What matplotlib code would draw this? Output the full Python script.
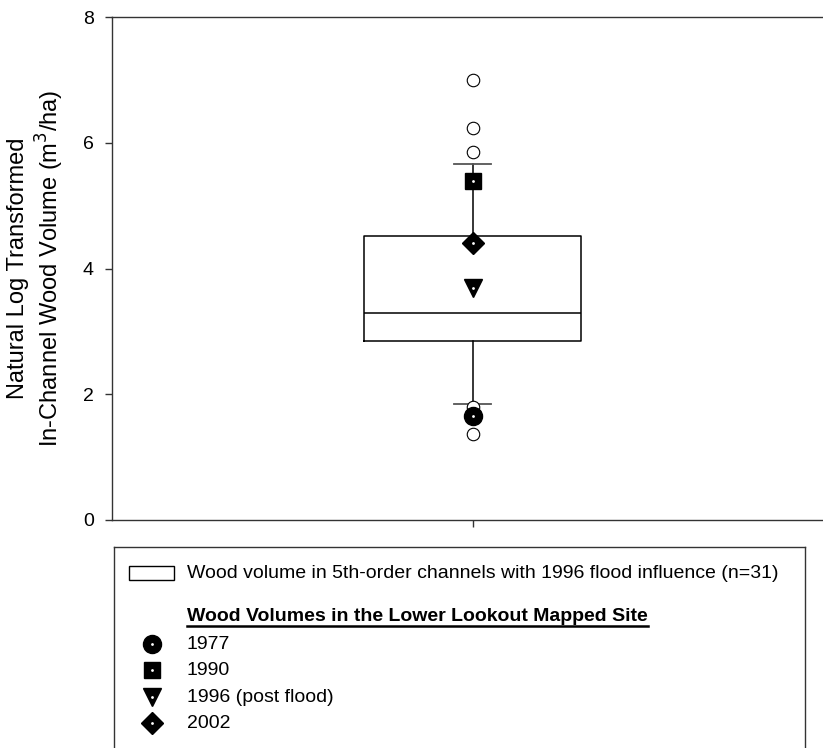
import matplotlib
matplotlib.use("Agg")
import matplotlib.pyplot as plt
from matplotlib.patches import Rectangle

plt.rcParams['font.family'] = ['Liberation Sans', 'DejaVu Sans']

# box plot summary for 5th-order channels (n=31), natural log wood volume
box_median = 3.29
box_q1 = 2.85
box_q3 = 4.51
whisker_low = 1.84
whisker_high = 5.66
outliers = [7.0, 6.23, 5.86, 1.79, 1.37]

# Lower Lookout mapped site
site_years = ["1977", "1990", "1996 (post flood)", "2002"]
site_values = [1.65, 5.39, 3.69, 4.40]
site_markers = ["o", "s", "v", "D"]
site_sizes = [13, 12, 13, 11.5]

yticks = [0, 2, 4, 6, 8]

W, H = 823, 748
fig = plt.figure(figsize=(W / 100, H / 100), dpi=100)
ax = fig.add_axes([112 / W, (H - 520) / H, 721 / W, 503 / H])

stats = [dict(med=box_median, q1=box_q1, q3=box_q3,
              whislo=whisker_low, whishi=whisker_high, fliers=outliers)]
ax.bxp(stats, positions=[1], widths=0.301, capwidths=0.0513,
       showfliers=True, patch_artist=False,
       boxprops=dict(color='black', linewidth=1.1),
       medianprops=dict(color='black', linewidth=1.1),
       whiskerprops=dict(color='black', linewidth=1.1),
       capprops=dict(color='#555555', linewidth=1.3),
       flierprops=dict(marker='o', markersize=9, markerfacecolor='white',
                       markeredgecolor='black', markeredgewidth=0.8))

for val, mk, ms in zip(site_values, site_markers, site_sizes):
    ax.plot([1], [val], marker=mk, markersize=ms, color='black',
            linestyle='none', zorder=5)
    ax.plot([1], [val], marker='o', markersize=2, color='white',
            markeredgewidth=0, linestyle='none', zorder=6)

ax.set_xlim(0.5, 1.5)
ax.set_ylim(0, 8)
ax.set_yticks(yticks)
ax.set_xticks([1])
ax.set_xticklabels([''])
ax.tick_params(direction='out', length=5, width=1, color='#333333',
               labelsize=14, pad=8)
for side in ['left', 'top', 'bottom', 'right']:
    ax.spines[side].set_color('#333333')
    ax.spines[side].set_linewidth(1)
ax.set_ylabel("Natural Log Transformed\nIn-Channel Wood Volume (m$^3$/ha)",
              fontsize=17)
ax.yaxis.set_label_coords(-0.064, 0.5)

# legend box (pixel layout inside a framed axes)
lx0, lx1, ly0, ly1 = 114, 805, 547, 770
lax = fig.add_axes([lx0 / W, (H - ly1) / H, (lx1 - lx0) / W, (ly1 - ly0) / H])
lax.set_xlim(lx0, lx1)
lax.set_ylim(ly1, ly0)
lax.set_xticks([])
lax.set_yticks([])
for side in ['left', 'top', 'bottom', 'right']:
    lax.spines[side].set_color('#333333')
    lax.spines[side].set_linewidth(1)

fs = 14
lax.add_patch(Rectangle((129, 566), 45, 14, facecolor='white',
                        edgecolor='black', linewidth=1))
lax.text(187, 573, "Wood volume in 5th-order channels with 1996 flood influence (n=31)",
         fontsize=fs, va='center', ha='left')
head = lax.text(187, 616, "Wood Volumes in the Lower Lookout Mapped Site",
                fontsize=fs, fontweight='bold', va='center', ha='left')
fig.canvas.draw()
bb = head.get_window_extent().transformed(lax.transData.inverted())
lax.plot([bb.x0, bb.x1], [626, 626], color='black', linewidth=1.8)

row_y = [644, 670, 697, 723]
for yr, mk, ms, yy in zip(site_years, site_markers, site_sizes, row_y):
    lax.plot([152], [yy], marker=mk, markersize=ms, color='black', linestyle='none')
    lax.plot([152], [yy], marker='o', markersize=2, color='white',
             markeredgewidth=0, linestyle='none')
    lax.text(187, yy, yr, fontsize=fs, va='center', ha='left')

fig.savefig("out.png", dpi=100)
